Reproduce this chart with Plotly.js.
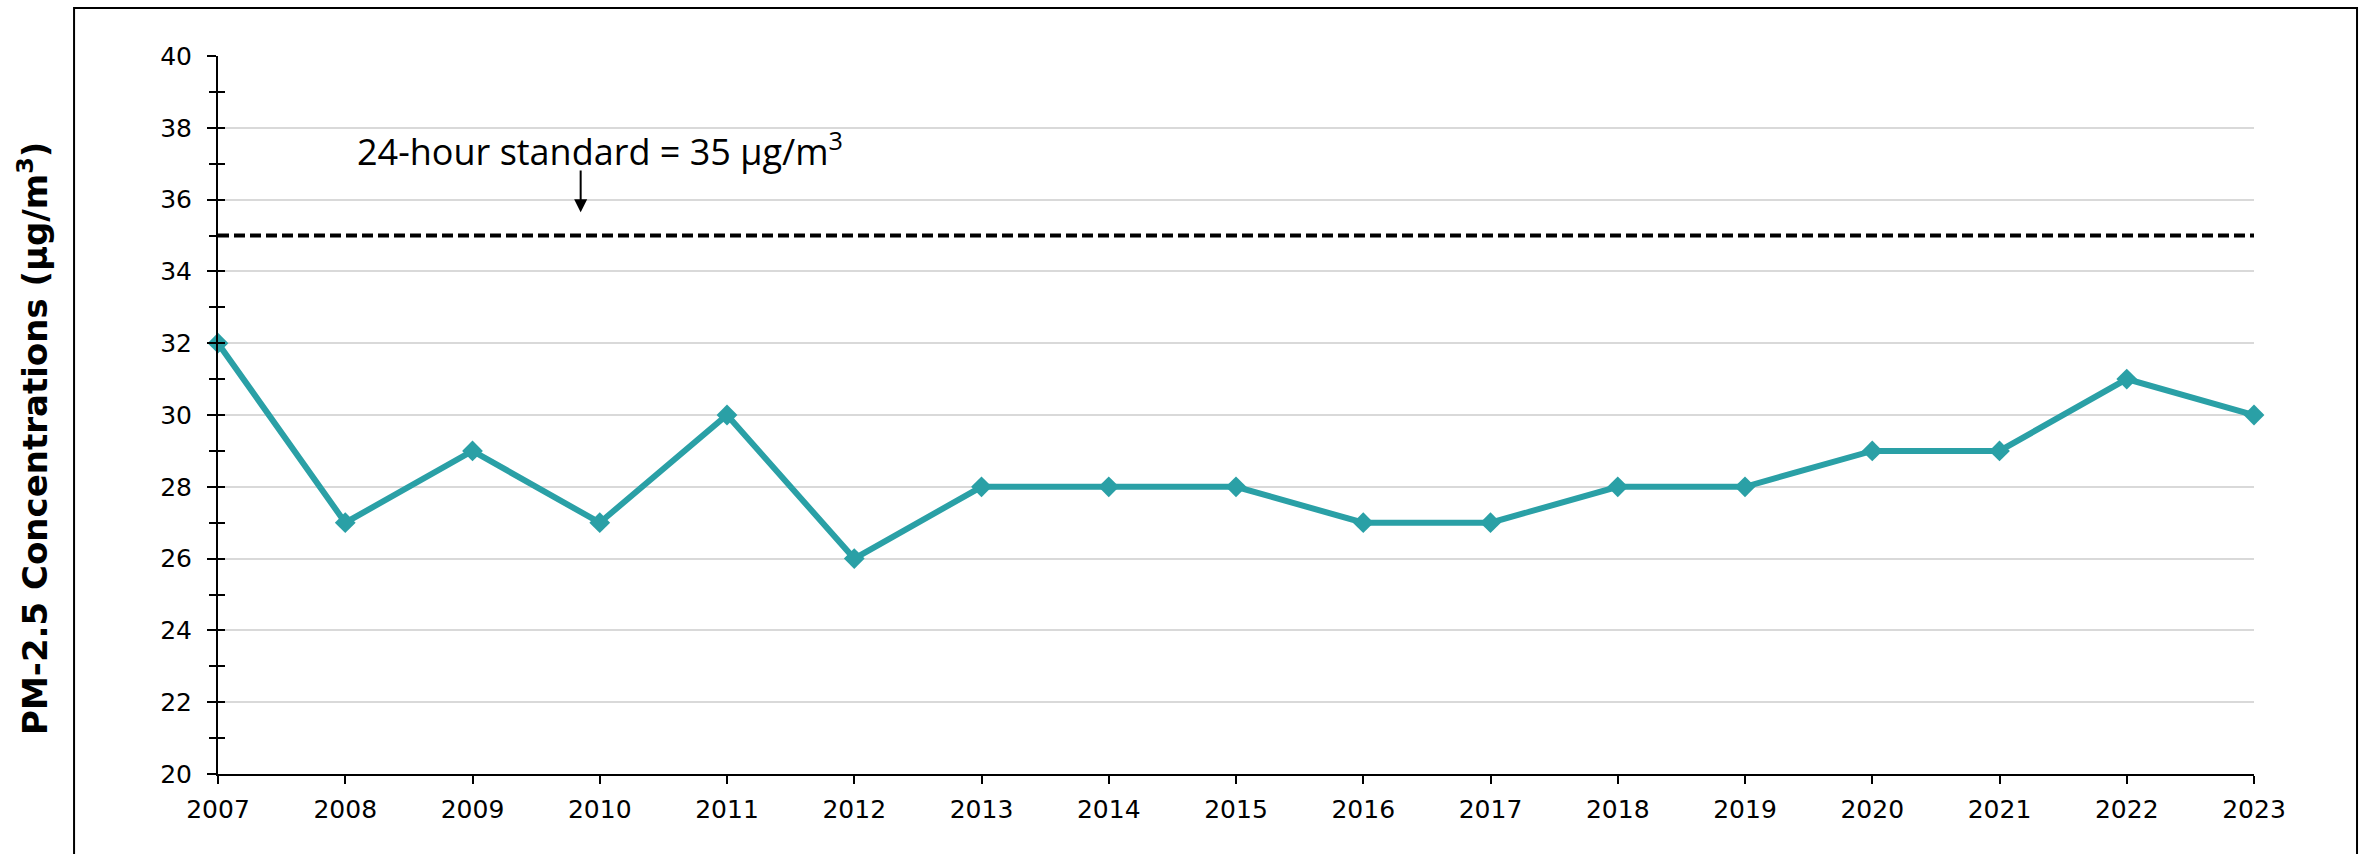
<!DOCTYPE html>
<html>
<head>
<meta charset="utf-8">
<script src="https://cdn.plot.ly/plotly-3.0.1.min.js"></script>
<style>
  html, body { margin: 0; padding: 0; background: #ffffff; }
  #chart { width: 2361px; height: 854px; }
</style>
</head>
<body>
<div id="chart"></div>
<script>
// ---- data ----
var years = [2007, 2008, 2009, 2010, 2011, 2012, 2013, 2014, 2015, 2016, 2017, 2018, 2019, 2020, 2021, 2022, 2023];
var pm25 = [32, 27, 29, 27, 30, 26, 28, 28, 28, 27, 27, 28, 28, 29, 29, 31, 30];
var standardValue = 35;
var yTickVals = [20, 22, 24, 26, 28, 30, 32, 34, 36, 38, 40];
var yTickText = ['20', '22', '24', '26', '28', '30', '32', '34', '36', '38', '40'];
var xTickVals = years.slice();
var xTickText = years.map(String);
var yTitle = 'PM-2.5 Concentrations (μg/m<sup>3</sup>)';
var standardLabel = '24-hour standard = 35 μg/m<sup>3</sup>';

var teal = '#2AA0A6';
var tickFont = { family: 'DejaVu Sans, Verdana, sans-serif', size: 25, color: '#000000' };

var traces = [
  {
    x: years,
    y: pm25,
    type: 'scatter',
    mode: 'lines+markers',
    line: { color: teal, width: 6 },
    marker: { symbol: 'diamond', size: 16, color: teal },
    cliponaxis: false,
    showlegend: false,
    hoverinfo: 'x+y'
  },
  {
    // carrier for the inner half of the crossing y ticks
    x: years,
    y: pm25,
    yaxis: 'y2',
    type: 'scatter',
    mode: 'lines',
    opacity: 0,
    line: { width: 0 },
    showlegend: false,
    hoverinfo: 'skip'
  }
];

var layout = {
  width: 2361,
  height: 854,
  paper_bgcolor: '#ffffff',
  plot_bgcolor: '#ffffff',
  margin: { l: 218, r: 107, t: 56, b: 80 },
  showlegend: false,
  xaxis: {
    range: [2007, 2023],
    tickmode: 'array',
    tickvals: xTickVals,
    ticktext: xTickText,
    ticks: 'outside',
    ticklen: 8,
    tickwidth: 2,
    tickcolor: '#000000',
    showline: true,
    linecolor: '#000000',
    linewidth: 2,
    showgrid: false,
    zeroline: false,
    ticklabelstandoff: 4,
    tickfont: tickFont
  },
  yaxis: {
    range: [20, 40],
    tickmode: 'array',
    tickvals: yTickVals,
    ticktext: yTickText,
    ticks: 'outside',
    ticklen: 9,
    tickwidth: 2,
    tickcolor: '#000000',
    minor: { dtick: 1, tick0: 20, ticks: 'outside', ticklen: 7, tickwidth: 2, tickcolor: '#000000', showgrid: false },
    showline: true,
    linecolor: '#000000',
    linewidth: 2,
    showgrid: true,
    gridcolor: '#D9D9D9',
    gridwidth: 2,
    zeroline: false,
    ticklabelstandoff: 10,
    tickfont: tickFont
  },
  yaxis2: {
    overlaying: 'y',
    side: 'left',
    anchor: 'x',
    range: [20, 40],
    tickmode: 'linear',
    tick0: 20,
    dtick: 1,
    ticks: 'inside',
    ticklen: 7,
    tickwidth: 2,
    tickcolor: '#000000',
    showticklabels: false,
    showgrid: false,
    showline: false,
    zeroline: false
  },
  shapes: [
    {
      type: 'line', xref: 'paper', yref: 'y',
      x0: 0, x1: 1, y0: standardValue, y1: standardValue,
      line: { color: '#000000', width: 4, dash: '11px,5px' }
    },
    {
      type: 'rect', xref: 'paper', yref: 'paper',
      x0: -0.0707, x1: 1.0506, y0: -0.15, y1: 1.0669,
      line: { color: '#000000', width: 2 },
      fillcolor: 'rgba(0,0,0,0)'
    }
  ],
  annotations: [
    {
      text: standardLabel,
      xref: 'x', yref: 'y',
      x: 2010.0, y: 37.4,
      xanchor: 'center', yanchor: 'middle',
      showarrow: false,
      font: { family: 'Open Sans, Noto Sans, sans-serif', size: 36, color: '#000000' }
    },
    {
      text: '',
      xref: 'x', yref: 'y',
      x: 2009.85, y: 35.65,
      axref: 'x', ayref: 'y',
      ax: 2009.85, ay: 36.85,
      showarrow: true,
      arrowhead: 2,
      arrowsize: 1.3,
      arrowwidth: 2,
      arrowcolor: '#000000'
    },
    {
      text: yTitle,
      xref: 'paper', yref: 'paper',
      x: -0.0909, y: 0.468,
      xanchor: 'center', yanchor: 'middle',
      textangle: -90,
      showarrow: false,
      font: { family: 'DejaVu Sans, Verdana, sans-serif', size: 34, color: '#000000', weight: 'bold' }
    }
  ]
};

Plotly.newPlot('chart', traces, layout, { displayModeBar: false, staticPlot: true });
</script>
</body>
</html>
